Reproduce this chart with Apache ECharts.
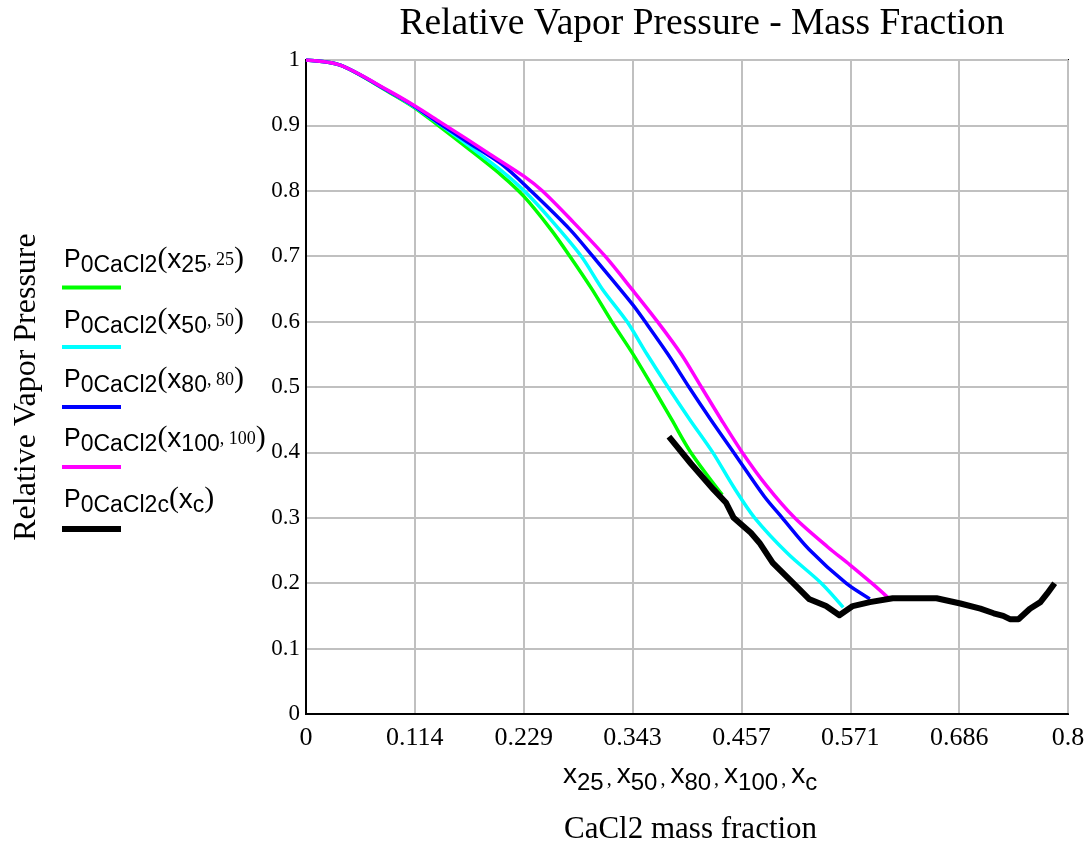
<!DOCTYPE html>
<html>
<head>
<meta charset="utf-8">
<script src="https://cdn.jsdelivr.net/npm/echarts@6/dist/echarts.min.js"></script>
<style>html,body{margin:0;padding:0;background:#fff;}#c{width:1092px;height:849px;}</style>
</head>
<body>
<div id="c"></div>
<script>
// ---- Data ----
const x25 = [0, 0.036, 0.088, 0.114, 0.137, 0.169, 0.205, 0.229, 0.257, 0.277, 0.300, 0.321, 0.343, 0.364, 0.384, 0.404, 0.437];
const p25 = [1.0, 0.992, 0.950, 0.927, 0.902, 0.866, 0.824, 0.791, 0.741, 0.700, 0.650, 0.600, 0.551, 0.500, 0.450, 0.400, 0.335];

const x50 = [0, 0.036, 0.088, 0.114, 0.139, 0.169, 0.205, 0.229, 0.257, 0.289, 0.311, 0.337, 0.358, 0.380, 0.403, 0.427, 0.449, 0.471, 0.506, 0.541, 0.564];
const p50 = [1.0, 0.992, 0.951, 0.928, 0.903, 0.871, 0.831, 0.800, 0.756, 0.700, 0.650, 0.600, 0.550, 0.500, 0.450, 0.400, 0.347, 0.300, 0.245, 0.200, 0.163];

const x80 = [0, 0.036, 0.088, 0.114, 0.140, 0.169, 0.205, 0.236, 0.277, 0.301, 0.343, 0.356, 0.380, 0.402, 0.425, 0.449, 0.481, 0.500, 0.528, 0.567, 0.592];
const p80 = [1.0, 0.992, 0.951, 0.929, 0.903, 0.875, 0.841, 0.800, 0.741, 0.700, 0.626, 0.600, 0.550, 0.500, 0.450, 0.400, 0.333, 0.300, 0.252, 0.200, 0.176];

const x100 = [0, 0.036, 0.088, 0.114, 0.141, 0.169, 0.193, 0.229, 0.248, 0.280, 0.314, 0.343, 0.369, 0.394, 0.415, 0.436, 0.458, 0.483, 0.513, 0.548, 0.571, 0.594, 0.611];
const p100 = [1.0, 0.992, 0.952, 0.930, 0.905, 0.879, 0.856, 0.822, 0.800, 0.753, 0.700, 0.648, 0.600, 0.550, 0.500, 0.450, 0.400, 0.350, 0.300, 0.255, 0.228, 0.200, 0.178];

const xc = [0.381, 0.404, 0.428, 0.441, 0.449, 0.467, 0.476, 0.490, 0.511, 0.528, 0.546, 0.560, 0.574, 0.592, 0.616, 0.640, 0.662, 0.687, 0.708, 0.722, 0.732, 0.739, 0.748, 0.760, 0.771, 0.778, 0.786];
const pc = [0.424, 0.383, 0.343, 0.323, 0.300, 0.277, 0.262, 0.231, 0.201, 0.176, 0.165, 0.151, 0.165, 0.171, 0.177, 0.177, 0.177, 0.169, 0.161, 0.154, 0.150, 0.145, 0.145, 0.161, 0.171, 0.184, 0.200];

const seriesNames = ['P0CaCl2(x25, 25)', 'P0CaCl2(x50, 50)', 'P0CaCl2(x80, 80)', 'P0CaCl2(x100, 100)', 'P0CaCl2c(xc)'];
const legendSubs = [['25', '25'], ['50', '50'], ['80', '80'], ['100', '100']];
const seriesColors = ['#00ff00', '#00ffff', '#0000ff', '#ff00ff', '#000000'];

const xMin = 0, xMax = 0.8, xStep = 0.8 / 7;
const yMin = 0, yMax = 1, yStep = 0.1;

const titleText = 'Relative Vapor Pressure - Mass Fraction';
const yAxisTitle = 'Relative Vapor Pressure';
const xAxisTitle = 'CaCl2 mass fraction';

function pairs(xs, ys) { return xs.map((x, i) => [x, ys[i]]); }

const chart = echarts.init(document.getElementById('c'), null, { renderer: 'canvas' });

const allX = [x25, x50, x80, x100, xc];
const allY = [p25, p50, p80, p100, pc];

const series = allX.map((xs, i) => ({
  name: seriesNames[i],
  type: 'line',
  data: pairs(xs, allY[i]),
  showSymbol: false,
  symbol: 'none',
  smooth: i === 4 ? false : 0.3,
  lineStyle: { color: seriesColors[i], width: i === 4 ? 6 : 3.5, join: 'round', cap: 'butt' },
  itemStyle: { color: seriesColors[i] },
  z: 2 + i,
  animation: false
}));

// Legend (Mathcad-style stacked labels with a line under each)
const legendTop = [244, 305, 364, 423, 484];
const legendLineY = [287.5, 347, 407, 467, 529];
const richStyles = {
  p: { fontFamily: 'Liberation Sans', fontSize: 25, color: '#000', verticalAlign: 'top', padding: [4, 0, 0, 0] },
  s: { fontFamily: 'Liberation Sans', fontSize: 23, color: '#000', verticalAlign: 'top', padding: [10, 0, 0, 0] },
  par: { fontFamily: 'Liberation Serif', fontSize: 30, color: '#000', verticalAlign: 'top', padding: [0, 0, 0, 0] },
  x: { fontFamily: 'Liberation Sans', fontSize: 28, color: '#000', verticalAlign: 'top', padding: [2, 0, 0, 0] },
  n: { fontFamily: 'Liberation Serif', fontSize: 18, color: '#000', verticalAlign: 'top', padding: [7, 0, 0, 0] }
};
const graphics = [];
for (let i = 0; i < 5; i++) {
  let txt;
  if (i < 4) {
    txt = '{p|P}{s|0CaCl2}{par|(}{x|x}{s|' + legendSubs[i][0] + '}{n|, ' + legendSubs[i][1] + '}{par|)}';
  } else {
    txt = '{p|P}{s|0CaCl2c}{par|(}{x|x}{s|c}{par|)}';
  }
  graphics.push({
    type: 'text', left: 64, top: legendTop[i], z: 10,
    style: { text: txt, rich: richStyles }
  });
  graphics.push({
    type: 'line', z: 10,
    shape: { x1: 62, y1: legendLineY[i], x2: 121, y2: legendLineY[i] },
    style: { stroke: seriesColors[i], lineWidth: i === 4 ? 6 : 4 }
  });
}
// x-axis variable line
graphics.push({
  type: 'text', left: 563, top: 761, z: 10,
  style: {
    text: '{x|x}{s|25}{c|,}{x|x}{s|50}{c|,}{x|x}{s|80}{c|,}{x|x}{s|100}{c|,}{x|x}{s|c}',
    rich: {
      x: { fontFamily: 'Liberation Sans', fontSize: 28, color: '#000', verticalAlign: 'top', padding: [0, 0, 0, 0] },
      s: { fontFamily: 'Liberation Sans', fontSize: 24, color: '#000', verticalAlign: 'top', padding: [10, 0, 0, 0] },
      c: { fontFamily: 'Liberation Serif', fontSize: 20, color: '#000', verticalAlign: 'top', padding: [9, 5, 0, 3] }
    }
  }
});
graphics.push({
  type: 'text', left: 564, top: 814, z: 10,
  style: { text: xAxisTitle, font: '31px "Liberation Serif"', fill: '#000' }
});

const option = {
  animation: false,
  backgroundColor: '#ffffff',
  title: {
    text: titleText, left: 697, top: 0, textAlign: 'center',
    textStyle: { fontFamily: 'Liberation Serif', fontSize: 37.5, fontWeight: 'normal', color: '#000' }
  },
  grid: {
    left: 306, right: 24, top: 60, bottom: 135,
    show: true, borderColor: '#000', borderWidth: 2, backgroundColor: 'transparent'
  },
  xAxis: {
    type: 'value', min: xMin, max: xMax, interval: xStep,
    axisLine: { show: true, lineStyle: { color: '#000', width: 2 } },
    axisTick: { show: false },
    splitLine: { show: true, lineStyle: { color: '#c0c0c0', width: 2 } },
    axisLabel: {
      margin: 11, color: '#000', fontFamily: 'Liberation Serif', fontSize: 26,
      showMaxLabel: true, showMinLabel: true,
      formatter: v => String(Math.round(v * 1000) / 1000)
    }
  },
  yAxis: {
    type: 'value', min: yMin, max: yMax, interval: yStep,
    name: yAxisTitle, nameLocation: 'middle', nameGap: 263, nameRotate: 90,
    nameTextStyle: { fontFamily: 'Liberation Serif', fontSize: 32, color: '#000' },
    axisLine: { show: true, lineStyle: { color: '#000', width: 2 } },
    axisTick: { show: false },
    splitLine: { show: true, lineStyle: { color: '#c0c0c0', width: 2 } },
    axisLabel: {
      margin: 6, color: '#000', fontFamily: 'Liberation Serif', fontSize: 23,
      formatter: v => String(Math.round(v * 10) / 10)
    }
  },
  graphic: graphics,
  series: series
};
chart.setOption(option);
</script>
</body>
</html>
